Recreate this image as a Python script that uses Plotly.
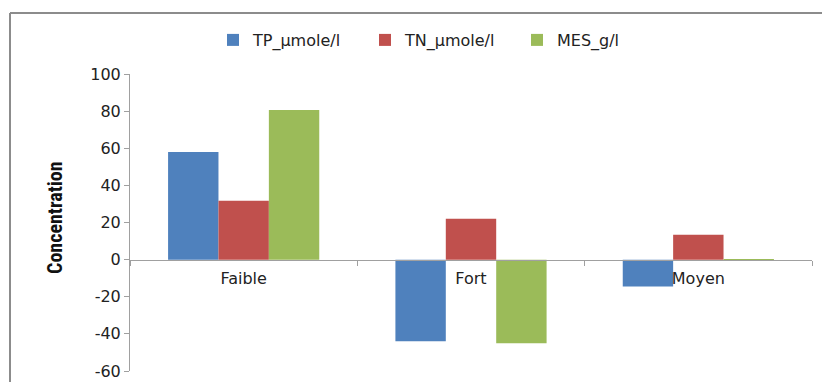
import plotly.graph_objects as go

categories = ["Faible", "Fort", "Moyen"]
tp_values = [58, -44, -14.5]
tn_values = [31.7, 22, 13.4]
mes_values = [80.6, -45, -0.5]
series_names = ["TP_µmole/l", "TN_µmole/l", "MES_g/l"]
colors = ["#4F81BD", "#C0504D", "#9BBB59"]
y_ticks = [-60, -40, -20, 0, 20, 40, 60, 80, 100]
y_tick_labels = [str(v) for v in y_ticks]

fig = go.Figure()
for name, vals, col in zip(series_names, [tp_values, tn_values, mes_values], colors):
    fig.add_trace(go.Bar(x=categories, y=vals, name=name, marker=dict(color=col, line=dict(width=0))))

L, R, T, B = 130, 11, 74, 11
W, H = 823, 382
pw = W - L - R
ph = H - T - B
zero_pos = (H - B - 260) / ph
FONT = "DejaVu Sans, Verdana, sans-serif"

fig.update_layout(
    width=W, height=H,
    margin=dict(l=L, r=R, t=T, b=B, pad=0, autoexpand=False),
    paper_bgcolor="white", plot_bgcolor="white",
    barmode="group", bargap=0.335, bargroupgap=0,
    font=dict(family=FONT, size=16, color="#222"),
    showlegend=True,
    legend=dict(orientation="h", x=(213 - L) / pw, xanchor="left", y=(H - B - 40) / ph, yanchor="middle",
                font=dict(size=16, family=FONT, color="#222"),
                itemwidth=30, entrywidth=107, entrywidthmode="pixels",
                tracegroupgap=0, bgcolor="rgba(0,0,0,0)"),
    xaxis=dict(showgrid=False, showline=True, linecolor="#a0a0a0", linewidth=1,
               ticks="outside", tickson="boundaries", ticklen=5, tickcolor="#a0a0a0",
               anchor="free", position=zero_pos, zeroline=False, automargin=False,
               ticklabelstandoff=4,
               tickfont=dict(size=16, family=FONT, color="#222")),
    yaxis=dict(range=[-60, 100], tickvals=y_ticks, ticktext=y_tick_labels,
               showgrid=False, zeroline=False,
               showline=True, linecolor="#a0a0a0", linewidth=1, ticks="outside", ticklen=5,
               tickcolor="#a0a0a0", automargin=False,
               tickfont=dict(size=16, family=FONT, color="#222")),
)

# y-axis title placed as annotation
fig.add_annotation(text="<b>Concentration</b>", xref="paper", yref="paper",
                   x=(55 - L) / pw, y=(H - B - 218) / ph, textangle=-90,
                   showarrow=False, xanchor="center", yanchor="middle",
                   font=dict(size=20, family="Liberation Sans Narrow, Roboto Condensed, DejaVu Sans Condensed, sans-serif", color="#111"))

# outer chart border: only left and top edges are visible in the frame (kept inside the page)
border_x = (10 - L) / pw
border_y = (H - B - 13) / ph
right_edge = (W - 1 - L) / pw
bottom_edge = -B / ph
fig.add_shape(type="line", xref="paper", yref="paper", x0=border_x, x1=border_x, y0=bottom_edge, y1=border_y,
              line=dict(color="#8c8c8c", width=2))
fig.add_shape(type="line", xref="paper", yref="paper", x0=border_x, x1=right_edge, y0=border_y, y1=border_y,
              line=dict(color="#8c8c8c", width=2))

fig.write_html("out.html", config={"displayModeBar": False})
